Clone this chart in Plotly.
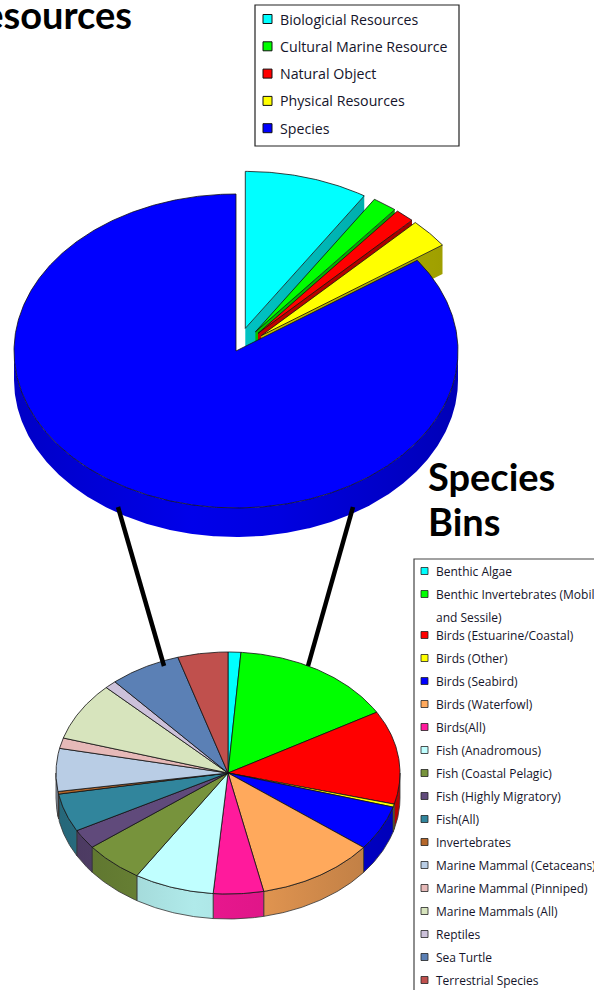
import textwrap
import numpy as np
import plotly.graph_objects as go

# ---------------- data ----------------
resource_labels = ["Biologicial Resources", "Cultural Marine Resource", "Natural Object",
                   "Physical Resources", "Species"]
resource_share = [9.0, 1.8, 1.4, 3.0, 84.8]
resource_colors = ["#00FFFF", "#00FF00", "#FF0000", "#FFFF00", "#0000FF"]
resource_explode = [0.15, 0.15, 0.15, 0.15, 0.0]

species_labels = ["Benthic Algae", "Benthic Invertebrates (Mobile and Sessile)",
                  "Birds (Estuarine/Coastal)", "Birds (Other)", "Birds (Seabird)",
                  "Birds (Waterfowl)", "Birds(All)", "Fish (Anadromous)",
                  "Fish (Coastal Pelagic)", "Fish (Highly Migratory)", "Fish(All)",
                  "Invertebrates", "Marine Mammal (Cetaceans)", "Marine Mammal (Pinniped)",
                  "Marine Mammals (All)", "Reptiles", "Sea Turtle", "Terrestrial Species"]
species_share = [1.2, 15.4, 12.5, 0.4, 6.0, 11.1, 4.7, 7.5, 5.6, 2.6, 5.1, 0.35,
                 5.7, 1.4, 7.8, 1.1, 6.7, 4.7]
species_colors = ["#00FFFF", "#00FF00", "#FF0000", "#FFFF00", "#0000FF", "#FFA95C",
                  "#FF1A9C", "#C0FFFF", "#77933C", "#604A7B", "#31859C", "#B5672A",
                  "#B9CDE5", "#E6B9B8", "#D7E4BD", "#CCC1DA", "#5B80B5", "#C0504D"]

titles = ["Resources", "Species", "Bins"]

OUTLINE = "#111111"
# brightness of the rim across the pie width (left -> right)
WALL_LIGHT = [(0.0, 0.78), (0.4, 0.92), (0.6, 0.88), (1.0, 0.72)]


def shade(hex_color, f):
    h = hex_color.lstrip("#")
    r, g, b = (int(h[i:i + 2], 16) for i in (0, 2, 4))
    return "rgb(%d,%d,%d)" % (r * f, g * f, b * f)


def add_pie3d(fig, values, colors, explode, cx, cy, rx, ry, depth, wall_line):
    """Tilted pie with a visible rim; angles run clockwise from 12 o'clock."""
    total = float(sum(values))
    edges = np.concatenate([[0.0], np.cumsum(values)]) / total * 360.0
    walls, tops = [], []
    for i, col in enumerate(colors):
        a0, a1 = edges[i], edges[i + 1]
        mid = np.radians((a0 + a1) / 2)
        ox = cx + explode[i] * rx * np.sin(mid)
        oy = cy - explode[i] * ry * np.cos(mid)

        def rim(t):
            t = np.radians(t)
            return ox + rx * np.sin(t), oy - ry * np.cos(t)

        n = max(4, int((a1 - a0) * 2))
        ax, ay = rim(np.linspace(a0, a1, n))
        tops.append((np.r_[ox, ax, ox], np.r_[oy, ay, oy], col))

        # front part of the outer wall
        lo, hi = max(a0, 90.0), min(a1, 270.0)
        if hi > lo:
            wx, wy = rim(np.linspace(lo, hi, max(4, int((hi - lo) * 2))))
            walls.append((np.r_[wx, wx[::-1], wx[0]],
                          np.r_[wy, wy[::-1] + depth, wy[0]], col, 1.0))
        # cut faces of pulled-out slices
        if explode[i] > 0:
            for a, sgn in ((a1, 1), (a0, -1)):
                if sgn * np.sin(np.radians(a)) > 1e-6:
                    ex, ey = rim(np.array([a]))
                    walls.append((np.r_[ox, ex[0], ex[0], ox, ox],
                                  np.r_[oy, ey[0], ey[0] + depth, oy + depth, oy],
                                  col, 0.85))
    for x, y, c, k in walls:
        scale = [[u, shade(c, f * k)] for u, f in WALL_LIGHT]
        fig.add_trace(go.Scatter(x=x, y=y, mode="lines", fill="toself",
                                 fillgradient=dict(type="horizontal", colorscale=scale,
                                                   start=cx - rx, stop=cx + rx),
                                 line=wall_line, hoverinfo="skip", showlegend=False))
    for x, y, c in tops:
        fig.add_trace(go.Scatter(x=x, y=y, mode="lines", fill="toself", fillcolor=c,
                                 line=dict(color=OUTLINE, width=0.8),
                                 hoverinfo="skip", showlegend=False))


fig = go.Figure()

# upper pie: resource categories
add_pie3d(fig, resource_share, resource_colors, resource_explode,
          cx=236, cy=351, rx=222, ry=157, depth=29,
          wall_line=dict(color="rgba(0,0,0,0)", width=0))
# lower pie: breakdown of the Species slice
add_pie3d(fig, species_share, species_colors, [0.0] * len(species_share),
          cx=228, cy=773, rx=172, ry=121, depth=25,
          wall_line=dict(color="#333333", width=0.8))

shapes = []
annotations = []

# connector bars between the two pies
for x0, x1 in ((118, 164), (353, 308)):
    shapes.append(dict(type="line", x0=x0, y0=507, x1=x1, y1=666,
                       line=dict(color="black", width=4.5)))

# legend for the upper pie
shapes.append(dict(type="rect", x0=255, y0=5, x1=459, y1=146,
                   line=dict(color="#222222", width=1.2), fillcolor="white"))
for i, (lab, col) in enumerate(zip(resource_labels, resource_colors)):
    yc = 19 + i * 27.3
    shapes.append(dict(type="rect", x0=263, x1=272, y0=yc - 4.5, y1=yc + 4.5,
                       line=dict(color="#111111", width=1), fillcolor=col))
    annotations.append(dict(x=278, y=yc, text=lab, showarrow=False, xanchor="left",
                            yanchor="middle",
                            font=dict(family="Open Sans", size=14.2, color="#14142a")))

# legend for the lower pie
shapes.append(dict(type="rect", x0=414, y0=559, x1=640, y1=1040,
                   line=dict(color="#444444", width=1.2), fillcolor="white"))
yc = 571
for lab, col in zip(species_labels, species_colors):
    shapes.append(dict(type="rect", x0=421, x1=428, y0=yc - 3.5, y1=yc + 3.5,
                       line=dict(color="#222222", width=0.8), fillcolor=col))
    lines = textwrap.wrap(lab, 30)
    for j, part in enumerate(lines):
        annotations.append(dict(x=434, y=yc + j * 23, text=part, showarrow=False,
                                xanchor="left", yanchor="middle",
                                font=dict(family="Open Sans", size=12, color="#14142a")))
    yc += 23 + 18 * (len(lines) - 1)

# headings
annotations.append(dict(x=134, y=14, text="<b>%s</b>" % titles[0], showarrow=False,
                        xanchor="right", yanchor="middle",
                        font=dict(family="Lato", size=38, color="black")))
annotations.append(dict(x=426, y=476, text="<b>%s</b>" % titles[1], showarrow=False,
                        xanchor="left", yanchor="middle",
                        font=dict(family="Lato", size=38, color="black")))
annotations.append(dict(x=426, y=521, text="<b>%s</b>" % titles[2], showarrow=False,
                        xanchor="left", yanchor="middle",
                        font=dict(family="Lato", size=38, color="black")))

fig.update_layout(
    width=594, height=990, margin=dict(l=0, r=0, t=0, b=0),
    paper_bgcolor="white", plot_bgcolor="white", showlegend=False,
    xaxis=dict(range=[0, 594], visible=False, fixedrange=True),
    yaxis=dict(range=[990, 0], visible=False, fixedrange=True),
    shapes=shapes, annotations=annotations,
)

fig.write_html("out.html")
